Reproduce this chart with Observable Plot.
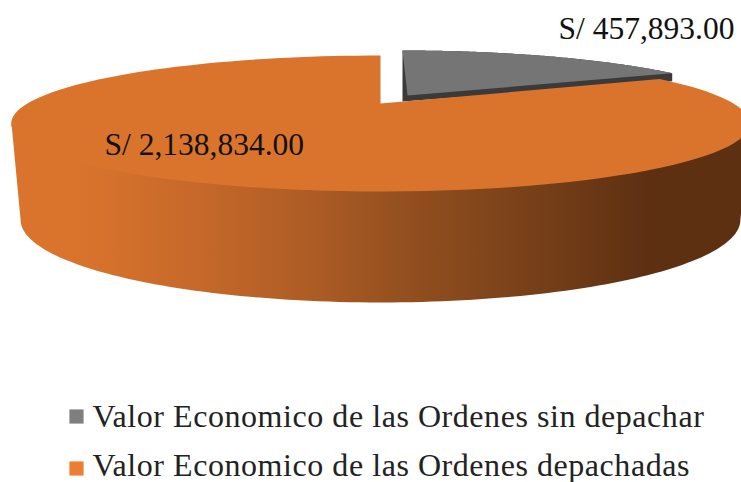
<!DOCTYPE html>
<html><head><meta charset="utf-8">
<style>html,body{margin:0;padding:0;background:#fff}svg{display:block}.legend-text text{letter-spacing:0.55px}</style>
<script src="https://cdn.jsdelivr.net/npm/d3@7"></script>
<script src="https://cdn.jsdelivr.net/npm/@observablehq/plot@0.6"></script>
</head><body><script>
const categories = ["Valor Economico de las Ordenes sin depachar", "Valor Economico de las Ordenes depachadas"];
const values = [457893, 2138834];
const valueLabels = ["S/ 457,893.00", "S/ 2,138,834.00"];
const legendSwatchColors = ["#7f7f7f", "#ed7d31"];

const W = 741, H = 482, SERIF = "Liberation Serif, Times New Roman, serif";
const total = d3.sum(values);
const sweep = values[0] / total * 360;
const rad = d => d * Math.PI / 180;
const K = 0.294;
// perspective projection of a point on the pie's circle (angle clockwise from top)
const proj = (deg, ax, ay, rx, ry) => {
  const u = Math.sin(rad(deg)), v = Math.cos(rad(deg)), w = 1 + K * v;
  return {x: ax + rx * u / w, y: ay - ry * v / w};
};
const arc = (a, b, ax, ay, rx, ry) => d3.range(0, 121).map(i => proj(a + (b - a) * i / 120, ax, ay, rx, ry));

const TOP = [380, 103, 353, 62.1], BOTTOM = [380, 195, 344, 75.5], GRAY = [402, 96.5, 341, 60.2];
const orangeTop = [{x: TOP[0], y: TOP[1]}, ...arc(sweep, 360, ...TOP)];
const orangeWall = [...arc(107, 253, TOP[0], TOP[1] - 3, TOP[2], TOP[3]), ...arc(253, 107, ...BOTTOM)];
const grayArc = arc(0, sweep, ...GRAY);
const grayTop = [{x: 407, y: 95}, ...grayArc];
const grayEnd = grayArc[grayArc.length - 1];
const grayWall = [grayArc[0], {x: grayArc[0].x, y: 101}, {x: grayEnd.x, y: grayEnd.y + 8}, ...grayArc.slice().reverse()];

const poly = (pts, fill) => Plot.line(pts, {x: "x", y: "y", fill, stroke: "none"});
const defs = () => {
  const s = d3.create("svg:defs");
  const g = s.append("linearGradient").attr("id", "wallGrad").attr("gradientUnits", "userSpaceOnUse")
    .attr("x1", 0).attr("x2", W).attr("y1", 0).attr("y2", 0);
  [[0.10, "#da742c"], [0.27, "#c5682a"], [0.42, "#ad5c25"], [0.55, "#924f1f"], [0.72, "#774019"], [0.87, "#5e3012"], [1, "#5e3012"]]
    .forEach(([o, c]) => g.append("stop").attr("offset", o).attr("stop-color", c));
  return s.node();
};
const legend = categories.map((name, i) => ({name, i}));

const chart = Plot.plot({
  width: W, height: H, margin: 0,
  x: {domain: [0, W], range: [0, W], axis: null},
  y: {domain: [0, H], range: [0, H], axis: null},
  style: {background: "#fff"},
  marks: [
    defs,
    poly(grayWall, "#3a3a3a"),
    poly(grayTop, "#757575"),
    poly(orangeWall, "url(#wallGrad)"),
    poly(orangeTop, "#da742c"),
    Plot.text([valueLabels[0]], {x: 558, y: 28, text: d => d, textAnchor: "start", fontFamily: SERIF, fontSize: 31.5, fill: "#111"}),
    Plot.text([valueLabels[1]], {x: 104, y: 144, text: d => d, textAnchor: "start", fontFamily: SERIF, fontSize: 31.5, fill: "#111"}),
    Plot.dot(legend, {x: 76, y: d => 416 + d.i * 52, r: 8, symbol: "square", fill: d => legendSwatchColors[d.i], stroke: "none"}),
    Plot.text(legend, {x: 92, y: d => 416 + d.i * 49, text: "name", textAnchor: "start", fontFamily: SERIF, fontSize: 32, fill: "#222", className: "legend-text"})
  ]
});
document.body.appendChild(chart);
</script></body></html>
